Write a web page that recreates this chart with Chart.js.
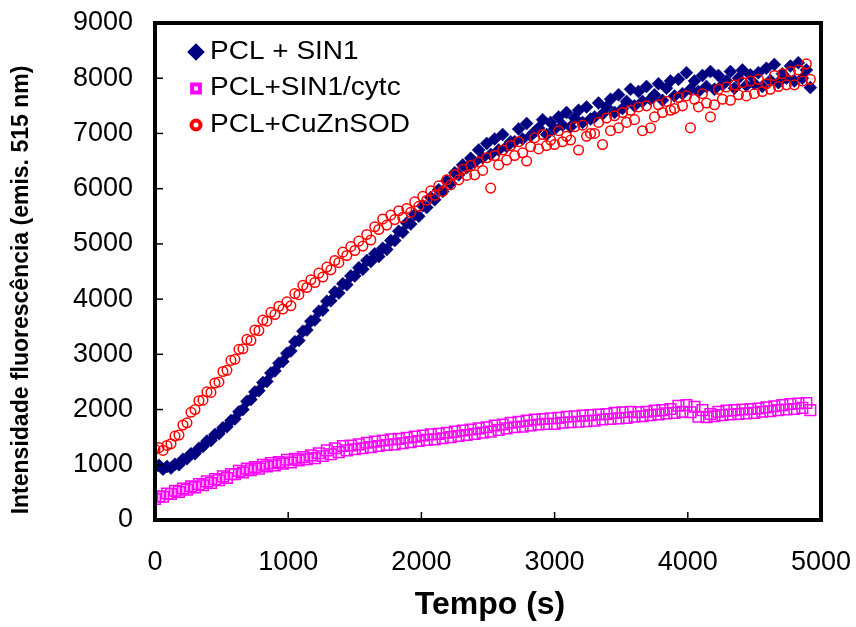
<!DOCTYPE html>
<html>
<head>
<meta charset="utf-8">
<script src="https://cdn.jsdelivr.net/npm/chart.js@4"></script>
<style>
  html, body { margin: 0; padding: 0; background: #fff; }
</style>
</head>
<body>
<canvas id="grafico" width="856" height="627"></canvas>
<script>
// tempo (s)
const tempos = [
  0,30,60,90,120,150,180,210,240,270,
  300,330,360,390,420,450,480,510,540,570,
  600,630,660,690,720,750,780,810,840,870,
  900,930,960,990,1020,1050,1080,1110,1140,1170,
  1200,1230,1260,1290,1320,1350,1380,1410,1440,1470,
  1500,1530,1560,1590,1620,1650,1680,1710,1740,1770,
  1800,1830,1860,1890,1920,1950,1980,2010,2040,2070,
  2100,2130,2160,2190,2220,2250,2280,2310,2340,2370,
  2400,2430,2460,2490,2520,2550,2580,2610,2640,2670,
  2700,2730,2760,2790,2820,2850,2880,2910,2940,2970,
  3000,3030,3060,3090,3120,3150,3180,3210,3240,3270,
  3300,3330,3360,3390,3420,3450,3480,3510,3540,3570,
  3600,3630,3660,3690,3720,3750,3780,3810,3840,3870,
  3900,3930,3960,3990,4020,4050,4080,4110,4140,4170,
  4200,4230,4260,4290,4320,4350,4380,4410,4440,4470,
  4500,4530,4560,4590,4620,4650,4680,4710,4740,4770,
  4800,4830,4860,4890,4920
];

// PCL + SIN1
const pclSin1 = [
  950,990,920,970,940,1010,1000,1100,1110,1200,
  1200,1300,1330,1430,1440,1550,1560,1670,1690,1800,
  1830,1960,2000,2150,2180,2320,2340,2490,2510,2660,
  2700,2840,2870,3020,3060,3230,3250,3420,3440,3600,
  3620,3780,3800,3960,3970,4130,4110,4280,4260,4420,
  4420,4570,4540,4700,4680,4820,4770,4920,4900,5060,
  5060,5230,5210,5380,5360,5530,5500,5690,5660,5840,
  5800,5980,5950,6140,6100,6290,6250,6430,6380,6550,
  6480,6700,6560,6820,6620,6900,6700,6980,6760,6850,
  6850,7080,6900,7180,6960,7030,7100,7250,6980,7200,
  7080,7300,7150,7380,7120,7280,7420,7200,7480,7260,
  7300,7550,7350,7480,7620,7380,7700,7450,7580,7800,
  7500,7760,7580,7850,7620,7700,7900,7600,7820,7950,
  7680,7980,7720,8100,7800,7950,7760,8050,7850,8120,
  7800,8050,7880,7950,8120,7820,8000,8150,7870,8060,
  7900,8100,7850,8180,7960,8250,7920,8080,8000,8220,
  7950,8280,8000,8150,7830
];

// PCL+SIN1/cytc
const pclSin1Cytc = [
  380,430,420,480,470,530,510,570,550,610,
  590,650,630,700,670,740,720,790,760,830,
  830,890,860,930,900,960,930,1000,970,1030,
  990,1050,1020,1090,1040,1110,1080,1140,1100,1170,
  1120,1210,1160,1260,1190,1300,1230,1340,1260,1350,
  1280,1370,1300,1400,1320,1420,1340,1440,1360,1460,
  1370,1470,1390,1490,1410,1510,1430,1530,1450,1550,
  1460,1560,1480,1580,1500,1600,1520,1620,1540,1640,
  1560,1660,1580,1680,1600,1710,1630,1730,1660,1760,
  1680,1780,1690,1800,1710,1820,1730,1830,1740,1840,
  1740,1850,1760,1870,1770,1880,1780,1890,1790,1900,
  1800,1910,1820,1920,1830,1940,1840,1950,1850,1960,
  1870,1950,1880,1960,1900,1980,1910,1990,1930,2010,
  1940,2070,1960,2080,1950,2050,1870,1990,1860,1920,
  1880,1960,1900,1980,1910,1990,1920,2000,1930,2010,
  1940,2020,1960,2040,1970,2060,1990,2080,2000,2100,
  2010,2110,2030,2120,1990
];

// PCL+CuZnSOD
const pclCuZnSod = [
  1280,1310,1260,1350,1380,1520,1540,1720,1760,1950,
  2000,2160,2170,2320,2310,2480,2500,2690,2710,2890,
  2910,3090,3100,3270,3250,3440,3430,3620,3600,3760,
  3720,3870,3820,3950,3880,4100,4080,4250,4210,4350,
  4300,4470,4400,4580,4530,4700,4660,4850,4790,4950,
  4880,5050,4960,5170,5070,5310,5260,5450,5340,5520,
  5440,5600,5480,5640,5570,5760,5680,5860,5790,5960,
  5880,6050,5950,6160,6070,6250,6160,6350,6240,6420,
  6250,6480,6330,6560,6010,6600,6430,6700,6520,6780,
  6600,6850,6650,6500,6760,6920,6720,6980,6780,6880,
  6800,7050,6850,6950,6880,7120,6700,7150,6950,7000,
  7000,7200,6800,7280,7050,7320,7100,7380,7200,7420,
  7250,7480,7050,7500,7100,7300,7520,7380,7580,7420,
  7450,7650,7500,7680,7100,7620,7480,7720,7550,7300,
  7520,7800,7620,7840,7600,7880,7700,7920,7680,7950,
  7720,7980,7760,7900,7800,8050,7850,8080,7880,8120,
  7880,8150,7950,8260,7980
];

const xTicks = [0, 1000, 2000, 3000, 4000, 5000];
const yTicks = [0, 1000, 2000, 3000, 4000, 5000, 6000, 7000, 8000, 9000];

const pontos = serie => tempos.map((t, i) => ({ x: t, y: serie[i] }));

// moldura, ticks para dentro, titulos dos eixos e legenda
const decoracao = {
  id: 'decoracao',
  afterDatasetsDraw(chart) {
    const { ctx, chartArea: a, scales: { x, y } } = chart;
    ctx.save();

    ctx.strokeStyle = '#000';
    ctx.lineWidth = 1.5;
    xTicks.forEach(v => {
      const px = x.getPixelForValue(v);
      ctx.beginPath();
      ctx.moveTo(px, a.bottom);
      ctx.lineTo(px, a.bottom - 8);
      ctx.stroke();
    });
    yTicks.forEach(v => {
      const py = y.getPixelForValue(v);
      ctx.beginPath();
      ctx.moveTo(a.left, py);
      ctx.lineTo(a.left + 8, py);
      ctx.stroke();
    });

    ctx.lineWidth = 4;
    ctx.strokeRect(a.left, a.top, a.width, a.height);

    // legenda
    ctx.textBaseline = 'middle';
    ctx.textAlign = 'left';
    chart.data.datasets.forEach((ds, i) => {
      const cy = 52 + i * 36.5;
      ctx.fillStyle = ds.pointBackgroundColor;
      ctx.strokeStyle = ds.pointBorderColor;
      Chart.helpers.drawPoint(ctx, {
        pointStyle: ds.pointStyle,
        radius: ds.legendRadius,
        borderWidth: ds.pointBorderWidth,
        rotation: 0
      }, 196, cy);
      ctx.save();
      ctx.translate(210, cy);
      ctx.scale(1.12, 1);
      ctx.font = '25px "Liberation Sans", Arial, sans-serif';
      ctx.fillStyle = '#000';
      ctx.fillText(ds.label, 0, 0);
      ctx.restore();
    });

    // titulos
    ctx.fillStyle = '#000';
    ctx.textAlign = 'center';
    ctx.font = 'bold 32px "Liberation Sans Narrow", "Liberation Sans", sans-serif';
    ctx.fillText('Tempo (s)', 490, 605);
    ctx.translate(22, 290);
    ctx.rotate(-Math.PI / 2);
    ctx.font = 'bold 23px "Liberation Sans Narrow", "Liberation Sans", sans-serif';
    ctx.fillText('Intensidade fluorescência (emis. 515 nm)', 0, 0);

    ctx.restore();
  }
};

new Chart(document.getElementById('grafico'), {
  type: 'scatter',
  data: {
    datasets: [
      {
        label: 'PCL + SIN1',
        data: pontos(pclSin1),
        pointStyle: 'rectRot',
        pointRadius: 6.5,
        legendRadius: 6,
        pointBackgroundColor: '#000080',
        pointBorderColor: '#000080',
        pointBorderWidth: 0.5,
        order: 2
      },
      {
        label: 'PCL+SIN1/cytc',
        data: pontos(pclSin1Cytc),
        pointStyle: 'rect',
        pointRadius: 7.5,
        legendRadius: 5.5,
        pointBackgroundColor: 'rgba(0,0,0,0)',
        pointBorderColor: '#ff00ff',
        pointBorderWidth: 1.5,
        order: 1
      },
      {
        label: 'PCL+CuZnSOD',
        data: pontos(pclCuZnSod),
        pointStyle: 'circle',
        pointRadius: 4.8,
        legendRadius: 4.5,
        pointBackgroundColor: 'rgba(0,0,0,0)',
        pointBorderColor: '#ff0000',
        pointBorderWidth: 1.5,
        order: 0
      }
    ]
  },
  options: {
    responsive: false,
    animation: false,
    devicePixelRatio: 1,
    layout: { padding: { left: 0, top: 23, right: 35, bottom: 0 } },
    plugins: {
      legend: { display: false },
      tooltip: { enabled: false }
    },
    scales: {
      x: {
        type: 'linear',
        min: 0,
        max: 5000,
        afterBuildTicks: s => { s.ticks = xTicks.map(v => ({ value: v })); },
        afterFit: s => { s.height = 107; s.paddingLeft = 0; s.paddingRight = 0; },
        grid: { display: false, drawTicks: false },
        border: { display: false },
        ticks: {
          padding: 26,
          color: '#000',
          maxRotation: 0,
          callback: v => String(v),
          font: { family: '"Liberation Sans", Arial, sans-serif', size: 27 }
        }
      },
      y: {
        type: 'linear',
        min: 0,
        max: 9000,
        afterBuildTicks: s => { s.ticks = yTicks.map(v => ({ value: v })); },
        afterFit: s => { s.width = 155; s.paddingTop = 0; s.paddingBottom = 0; },
        grid: { display: false, drawTicks: false },
        border: { display: false },
        ticks: {
          padding: 22,
          color: '#000',
          callback: v => String(v),
          font: { family: '"Liberation Sans", Arial, sans-serif', size: 27 }
        }
      }
    }
  },
  plugins: [decoracao]
});
</script>
</body>
</html>
